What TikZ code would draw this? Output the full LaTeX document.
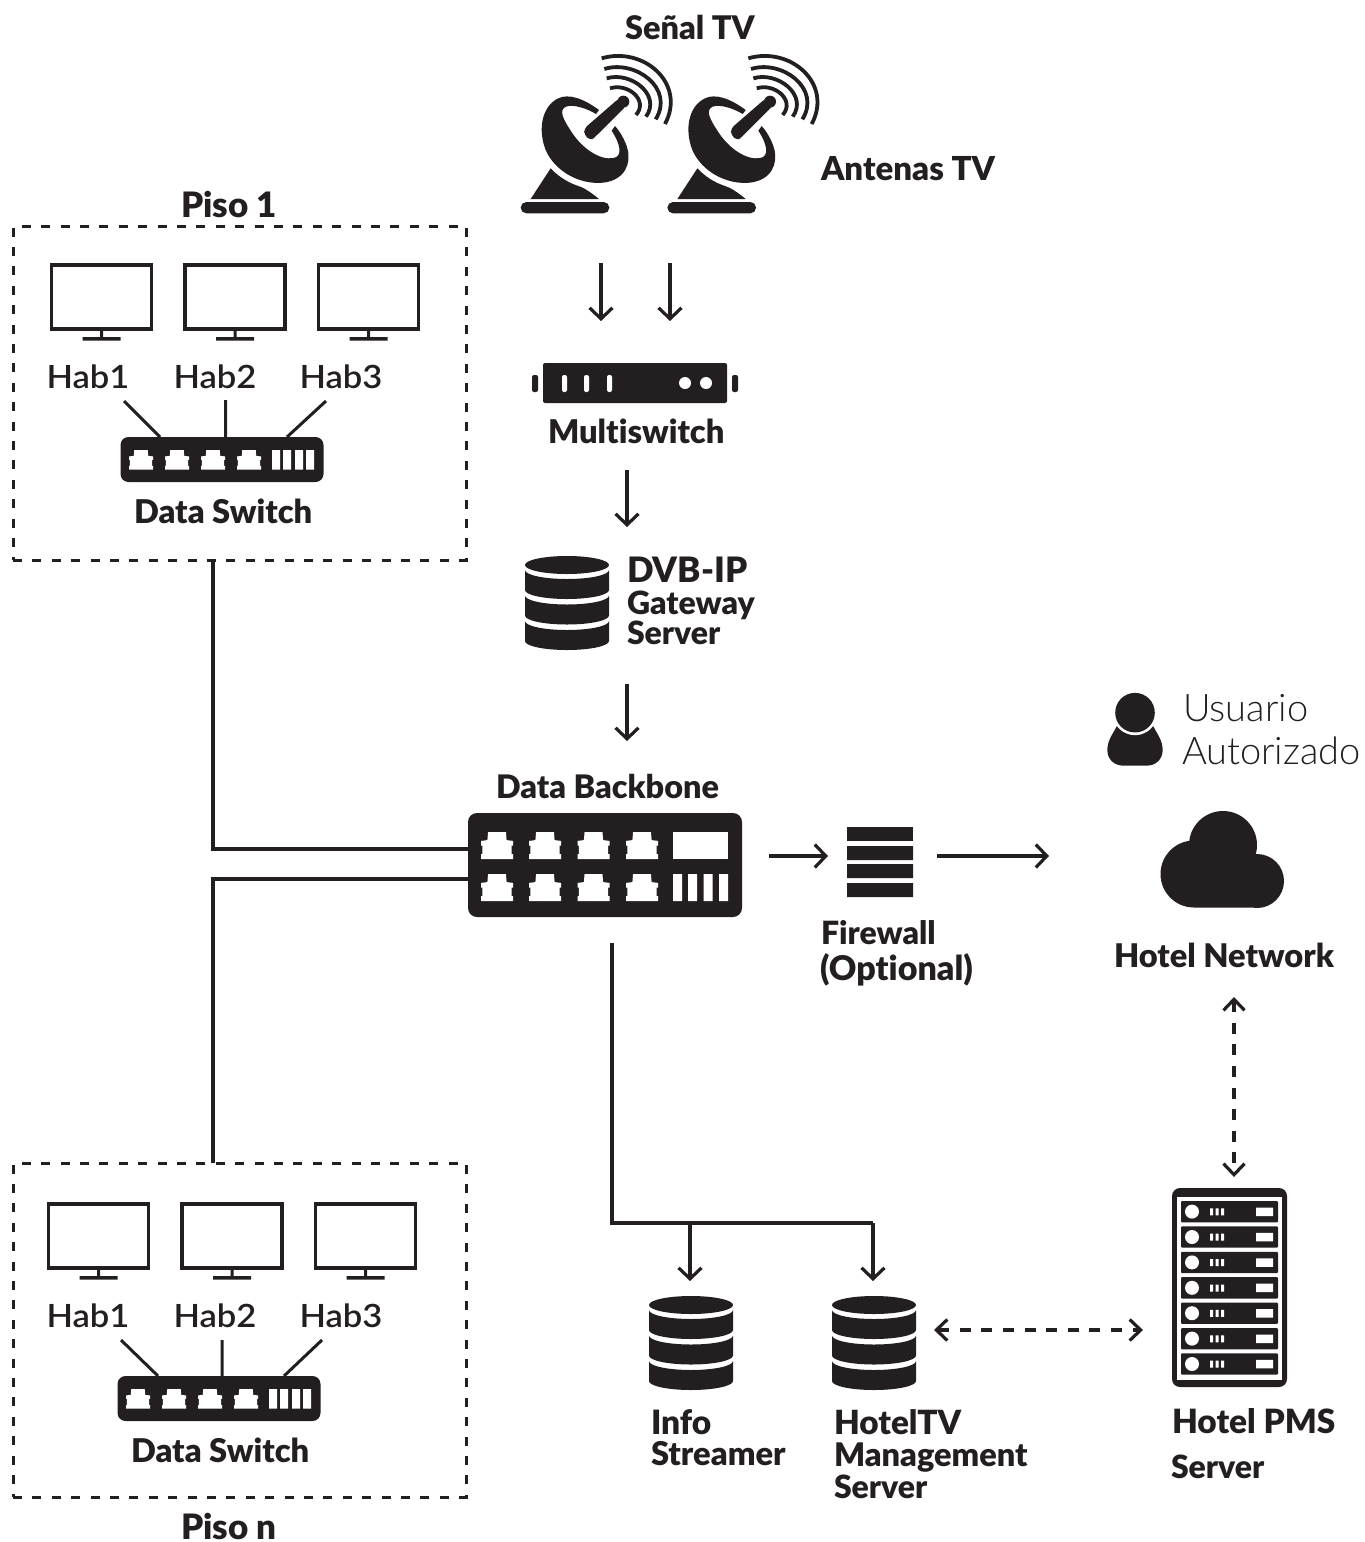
\documentclass[tikz,border=0pt]{standalone}
\usepackage{fontspec}
\usetikzlibrary{arrows.meta,calc,shapes.geometric}
\setmainfont{Lato}
\newfontfamily\blk[Ligatures=NoCommon]{Lato Black}
\newfontfamily\med[Ligatures=NoCommon,FakeStretch=1.08]{Lato Semibold}
\newfontfamily\lgt[Ligatures=NoCommon]{Lato Light}
\definecolor{ink}{HTML}{231F20}
\tikzset{
  lab/.style={anchor=base west,inner sep=0pt,outer sep=0pt,text=ink,font=\blk\fontsize{#1}{#1}\selectfont},
  hab/.style={anchor=base,inner sep=0pt,outer sep=0pt,text=ink,font=\med\fontsize{32}{32}\selectfont},
  thin label/.style={anchor=base west,inner sep=0pt,outer sep=0pt,text=ink,font=\lgt\fontsize{38}{38}\selectfont},
  dashbox/.style={draw=ink,line width=3pt,dash pattern=on 9pt off 10.4pt,inner sep=0pt,outer sep=0pt,minimum width=453pt,minimum height=334pt},
  blackbox/.style={fill=ink,inner sep=0pt,outer sep=0pt},
  wire/.style={draw=ink,line width=3.4pt},
  flow/.style={draw=ink,line width=3.2pt,-{Straight Barb[length=11pt,width=23pt]}},
  both/.style={draw=ink,line width=3.2pt,dash pattern=on 11pt off 10.65pt,{Straight Barb[length=11pt,width=21pt]}-{Straight Barb[length=11pt,width=21pt]}},
  tv/.style={draw=ink,line width=3.4pt,fill=white,inner sep=0pt,outer sep=0pt,minimum width=100pt,minimum height=64pt},
  third/.style={x=0.33333pt,y=-0.33333pt},
  dish/.pic={
    \fill[ink] (62,623) ++(17,-17) -- (311,606) arc[start angle=90,end angle=-90,radius=5.67pt] -- (79,640) arc[start angle=270,end angle=90,radius=5.67pt] -- cycle;
    \fill[ink] (152,505) -- (92,597) -- (297,597) .. controls (270,575) and (250,562) .. (232,557) .. controls (205,548) and (175,530) .. cycle;
    \fill[ink] (297,330) .. controls (250,295) and (205,280) .. (175,295)
      .. controls (125,318) and (113,390) .. (137,450)
      .. controls (165,515) and (240,555) .. (310,548)
      .. controls (375,540) and (395,490) .. (382,445)
      .. controls (375,420) and (360,395) .. (345,378)
      -- (335,392)
      .. controls (360,430) and (370,470) .. (340,474)
      .. controls (300,482) and (245,445) .. (212,392)
      .. controls (190,358) and (175,330) .. (198,320)
      .. controls (220,312) and (260,325) .. (288,342) -- cycle;
    \fill[ink,rounded corners=4pt] (252,386) -- (358,294) -- (380,316) -- (284,412) -- (272,422) -- (253,405) -- cycle;
    \fill[ink] (370,305) circle[radius=6pt];
    \draw[ink,line width=3.8pt] (305,175) .. controls (430,138) and (560,250) .. (495,372);
    \draw[ink,line width=3.8pt] (313,207) .. controls (405,178) and (525,265) .. (467,358);
    \draw[ink,line width=3.8pt] (320,235) .. controls (392,213) and (485,285) .. (438,350);
    \draw[ink,line width=3.8pt] (330,265) .. controls (382,248) and (447,300) .. (408,345);
  },
}
\newcommand\portshape[4]{\fill[white,xshift=#1pt,yshift=-#2pt,x=#3pt,y=-#4pt] (.22,0) -- (.78,0) -- (.80,.3) -- (1,.33) -- (1,.5) -- (.96,.5) -- (.96,.82) -- (1,.82) -- (1,1) -- (0,1) -- (0,.82) -- (.04,.82) -- (.04,.5) -- (0,.5) -- (0,.33) -- (.2,.3) -- cycle;}
\newcommand\dataswitch[3]{
  \begin{scope}[xshift=#2pt,yshift=-#3pt]
    \node[blackbox,rounded corners=8pt,minimum width=203pt,minimum height=45pt] (#1) at (101.5,22.5) {};
    \portshape{8.5}{13}{24}{19.5}\portshape{44.5}{13}{24}{19.5}\portshape{80.5}{13}{24}{19.5}\portshape{116.5}{13}{24}{19.5}
    \fill[white] (151.5,13) rectangle +(8,19.5) (162.5,13) rectangle +(8,19.5) (174.5,13) rectangle +(8,19.5) (185.5,13) rectangle +(8,19.5);
  \end{scope}}
\newcommand\tvscreen[3]{
  \node[tv] (#1) at (#2+50.5,#3+33) {};
  \fill[ink] (#2+49,#3+66) rectangle +(3,8) (#2+31.5,#3+73) rectangle +(38,3.6);}
\newcommand\dbstack[3]{
  \begin{scope}[xshift=#2pt,yshift=-#3pt]
    \node[fill=ink,inner sep=0pt,outer sep=0pt,ellipse,minimum width=84pt,minimum height=18pt] (#1) at (0,9) {};
    \foreach \top in {14,39.5,65}{
      \fill[ink] (42,\top) arc[start angle=0,end angle=-180,x radius=42pt,y radius=9pt] -- (-42,\top+20) arc[start angle=180,end angle=360,x radius=42pt,y radius=9pt] -- cycle;
    }
  \end{scope}}
\begin{document}
\begin{tikzpicture}[x=1pt,y=-1pt]
\useasboundingbox (0,0) rectangle (1365,1542);
% floor boxes
\node[dashbox] (piso1) at (239.5,393) {};
\node[dashbox] (pison) at (239.5,1330) {};
\node[lab=35] (tp1) at (181,217) {Piso 1};
\node[lab=35] (tpn) at (181,1539) {Piso n};
% TVs
\tvscreen{a1}{51}{264}\tvscreen{a2}{184.5}{264}\tvscreen{a3}{318}{264}
\tvscreen{b1}{48}{1203}\tvscreen{b2}{181.5}{1203}\tvscreen{b3}{315}{1203}
\node[hab] (ha1) at (88,388) {Hab1};
\node[hab] (ha2) at (215,388) {Hab2};
\node[hab] (ha3) at (341,388) {Hab3};
\node[hab] (hb1) at (88,1327) {Hab1};
\node[hab] (hb2) at (215,1327) {Hab2};
\node[hab] (hb3) at (341,1327) {Hab3};
\dataswitch{swa}{120.5}{437}
\dataswitch{swb}{117.5}{1376}
\node[lab=32.7] (lswa) at (134,523) {Data Switch};
\node[lab=32.7] (lswb) at (131,1462) {Data Switch};
\coordinate (ca1) at (124,401);\coordinate (ca1e) at (160,437);
\coordinate (ca2) at (225.5,400);\coordinate (ca2e) at (225.5,437);
\coordinate (ca3) at (326,401);\coordinate (ca3e) at (287,437);
\coordinate (cb1) at (121,1340);\coordinate (cb1e) at (158,1376);
\coordinate (cb2) at (222,1340);\coordinate (cb2e) at (222,1376);
\coordinate (cb3) at (322,1340);\coordinate (cb3e) at (284,1376);
\draw[wire,line width=3pt] (ca1)--(ca1e) (ca2)--(ca2e) (ca3)--(ca3e) (cb1)--(cb1e) (cb2)--(cb2e) (cb3)--(cb3e);
% dishes
\pic[third,xshift=500pt] at (0,0) {dish};
\pic[third,xshift=646.7pt] at (0,0) {dish};
\node[lab=32.5] (senal) at (625,39) {Señal TV};
\node[lab=33] (antenas) at (821,180) {Antenas TV};
\coordinate (d1) at (601,263);\coordinate (d1e) at (601,321);
\coordinate (d2) at (670,263);\coordinate (d2e) at (670,321);
\draw[flow] (d1)--(d1e);
\draw[flow] (d2)--(d2e);
% multiswitch
\node[blackbox,rounded corners=2pt,minimum width=184pt,minimum height=40pt] (ms) at (635,383) {};
\fill[ink,rounded corners=2pt] (532,375) rectangle (538,392) (732,375) rectangle (738,392);
\fill[white,rounded corners=2pt] (562,375) rectangle (567,392) (584,375) rectangle (589,392) (607,375) rectangle (612,392);
\fill[white] (685,383) circle[radius=6pt] (706,383) circle[radius=6pt];
\node[lab=32.7] (lms) at (548,443) {Multiswitch};
\coordinate (m1) at (627,470);\coordinate (m1e) at (627,527);
\draw[flow] (m1)--(m1e);
% gateway
\dbstack{gw}{567}{556}
\node[lab=35] (l1) at (627,582) {DVB-IP};
\node[lab=32] (l2) at (627,614) {Gateway};
\node[lab=32] (l3) at (627,644) {Server};
\coordinate (g1) at (627,684);\coordinate (g1e) at (627,741);
\draw[flow] (g1)--(g1e);
% backbone
\node[lab=32.4] (lbb) at (496,798) {Data Backbone};
\node[blackbox,rounded corners=9pt,minimum width=274pt,minimum height=104pt] (bb) at (605,865) {};
\foreach \px in {481,529,577.5,626}{\portshape{\px}{832}{32}{27}\portshape{\px}{874}{32}{27}}
\fill[white] (673,832) rectangle (728,859);
\fill[white] (673,874) rectangle +(9,27) (688,874) rectangle +(9,27) (703.5,874) rectangle +(9,27) (719,874) rectangle +(9,27);
% floor links
\coordinate (up) at (213,560);\coordinate (dn) at (213,1163);
\coordinate (bbu) at (469,849);\coordinate (bbd) at (469,879);
\draw[wire] (up) |- (bbu);
\draw[wire] (dn) |- (bbd);
% firewall
\node[blackbox,minimum width=66pt,minimum height=14pt] (fw) at (880,834) {};
\fill[ink] (847,846) rectangle (913,860) (847,864) rectangle (913,878) (847,883) rectangle (913,897);
\node[lab=32] (lfw) at (821,944) {Firewall};
\node[lab=34] (lfo) at (820,980) {(Optional)};
\coordinate (f1) at (769,856);\coordinate (f1e) at (828,856);
\coordinate (f2) at (937,856);\coordinate (f2e) at (1049,856);
\draw[flow] (f1)--(f1e);
\draw[flow] (f2)--(f2e);
% user and cloud
\begin{scope}[third,xshift=1090pt,yshift=-680pt]
  \fill[ink] (85,130) .. controls (70,160) and (52,180) .. (52,210) .. controls (52,240) and (75,257) .. (100,257) -- (170,257) .. controls (195,257) and (218,240) .. (218,210) .. controls (218,180) and (200,160) .. (185,130) -- cycle;
  \fill[white] (135,98) circle[radius=22.5pt];
  \fill[ink] (135,98) circle[radius=19.8pt];
\end{scope}
\node[thin label] (u1) at (1183,721) {Usuario};
\node[thin label] (u2) at (1182,764) {Autorizado};
\fill[ink] (1223,845) circle[radius=34pt] (1194,874) circle[radius=33.5pt] (1257,881) circle[radius=27pt] (1194,860) rectangle (1257,907.7);
\node[lab=32.6] (lhn) at (1114,967) {Hotel Network};
% lower bus
\coordinate (b0) at (612,943);\coordinate (bj1) at (690,1223);\coordinate (bj2) at (873,1223);\coordinate (bi) at (690,1281);\coordinate (bh) at (873,1281);
\draw[wire] (b0) |- (bj2);
\draw[flow] (bj1)--(bi);
\draw[flow] (bj2)--(bh);
\dbstack{info}{691}{1296}
\dbstack{htv}{874}{1296}
\node[lab=33.5] (li1) at (651,1434) {Info};
\node[lab=32.7] (li2) at (651,1465.5) {Streamer};
\node[lab=33.3] (lh1) at (834,1434) {HotelTV};
\node[lab=32.5] (lh2) at (834,1466) {Management};
\node[lab=32] (lh3) at (834,1498) {Server};
% PMS server
\node[fill=ink,rounded corners=8pt,inner sep=0pt,outer sep=0pt,minimum width=115pt,minimum height=199pt] (pms) at (1229.5,1287.5) {};
\fill[white] (1177,1197) rectangle (1282,1380);
\foreach \i in {0,...,6}{
  \pgfmathsetmacro\sy{1201+25.4*\i}
  \fill[ink,rounded corners=1pt] (1181,\sy) rectangle +(97,21.3);
  \fill[white] (1192,\sy+10.6) circle[radius=7pt];
  \fill[white] (1210,\sy+7.3) rectangle +(3,7) (1215.5,\sy+7.3) rectangle +(3,7) (1221,\sy+7.3) rectangle +(3,7) (1256,\sy+6.5) rectangle +(17,8.5);
}
\node[lab=33.4] (lp1) at (1172,1433) {Hotel PMS};
\node[lab=32] (lp2) at (1171,1478) {Server};
% dashed links
\coordinate (n1) at (1234,997);\coordinate (n2) at (1234,1177);
\coordinate (h1) at (934,1330);\coordinate (h2) at (1143,1330);
\draw[both] (n1)--(n2);
\draw[both] (h1)--(h2);
\end{tikzpicture}
\end{document}
